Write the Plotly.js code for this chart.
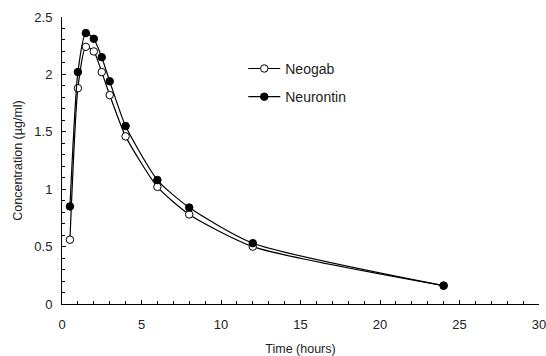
<!DOCTYPE html>
<html>
<head>
<meta charset="utf-8">
<script src="https://cdn.plot.ly/plotly-3.0.1.min.js"></script>
<style>html,body{margin:0;padding:0;background:#fff;}#chart{width:546px;height:356px;}</style>
</head>
<body>
<div id="chart"></div>
<script>
const times = [0.5, 1, 1.5, 2, 2.5, 3, 4, 6, 8, 12, 24];
const neogab = [0.56, 1.88, 2.24, 2.20, 2.02, 1.82, 1.46, 1.02, 0.78, 0.50, 0.16];
const neurontin = [0.85, 2.02, 2.36, 2.31, 2.15, 1.94, 1.55, 1.08, 0.84, 0.53, 0.16];
const seriesNames = ["Neogab", "Neurontin"];
const xTicks = [0, 5, 10, 15, 20, 25, 30];
const yTicks = [0, 0.5, 1, 1.5, 2, 2.5];

const fam = "Liberation Sans, Arial, sans-serif";
const txt = "#222";

const traces = [
  {
    x: times, y: neogab, name: seriesNames[0], type: "scatter", mode: "lines+markers",
    legendgroup: "a",
    line: {color: "black", width: 1.2, shape: "spline", smoothing: 0.6},
    marker: {symbol: "circle", size: 7.5, color: "white", line: {color: "black", width: 1}},
    cliponaxis: false
  },
  {
    x: times, y: neurontin, name: seriesNames[1], type: "scatter", mode: "lines+markers",
    legendgroup: "b",
    line: {color: "black", width: 1.2, shape: "spline", smoothing: 0.6},
    marker: {symbol: "circle", size: 7.5, color: "black", line: {color: "black", width: 1}},
    cliponaxis: false
  }
];

const layout = {
  width: 546, height: 356,
  margin: {l: 62, r: 7, t: 17, b: 52},
  paper_bgcolor: "white", plot_bgcolor: "white",
  font: {family: fam, size: 12, color: txt},
  showlegend: true,
  legend: {x: 0.38, y: 0.875, xanchor: "left", yanchor: "top", bgcolor: "rgba(0,0,0,0)",
           font: {family: fam, size: 14, color: txt}, traceorder: "grouped", tracegroupgap: 7, itemwidth: 32},
  xaxis: {
    range: [0, 30], tickvals: xTicks, ticktext: xTicks.map(String),
    showgrid: false, zeroline: false, showline: true, linecolor: "black", linewidth: 1,
    ticks: "inside", ticklen: 4, tickcolor: "black", ticklabelstandoff: 8, ticklabeloverflow: "allow",
    minor: {dtick: 1, ticks: "inside", ticklen: 3, tickcolor: "black", showgrid: false},
    title: {text: "Time (hours)", font: {family: fam, size: 12.5, color: txt}, standoff: 14},
    tickfont: {family: fam, size: 13, color: txt}
  },
  yaxis: {
    range: [0, 2.5], tickvals: yTicks, ticktext: yTicks.map(String),
    showgrid: false, zeroline: false, showline: true, linecolor: "black", linewidth: 1,
    ticks: "inside", ticklen: 4, tickcolor: "black", ticklabelstandoff: 6, ticklabeloverflow: "allow",
    minor: {dtick: 0.1, ticks: "inside", ticklen: 3, tickcolor: "black", showgrid: false},
    title: {text: "Concentration (µg/ml)", font: {family: fam, size: 12.5, color: txt}, standoff: 8},
    tickfont: {family: fam, size: 13, color: txt}
  }
};

Plotly.newPlot("chart", traces, layout, {displayModeBar: false, staticPlot: true});
</script>
</body>
</html>
